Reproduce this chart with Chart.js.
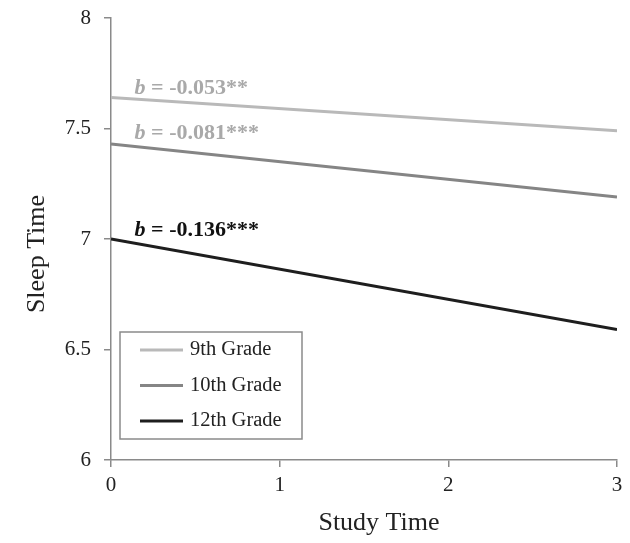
<!DOCTYPE html>
<html>
<head>
<meta charset="utf-8">
<script src="https://cdn.jsdelivr.net/npm/chart.js@4/dist/chart.umd.min.js"></script>
<style>
  html, body { margin: 0; padding: 0; background: #fff; }
  #wrap { width: 630px; height: 543px; }
</style>
</head>
<body>
<div id="wrap"><canvas id="chart-area" width="630" height="543"></canvas></div>
<script>
// study time (x) and predicted sleep time per grade
var studyTime = [0, 3];
var grades = ['9th Grade', '10th Grade', '12th Grade'];
var sleep9 = [7.64, 7.49];
var sleep10 = [7.43, 7.19];
var sleep12 = [7.00, 6.59];
var slopes = ['-0.053**', '-0.081***', '-0.136***'];
var slopeLabelY = [7.68, 7.48, 7.04];
var xTicks = [0, 1, 2, 3];
var yTicks = [6, 6.5, 7, 7.5, 8];

var lineColors = ['#b9b9b9', '#858585', '#1e1e1e'];
var labelColors = ['#a9a9a9', '#a9a9a9', '#111111'];
var serif = '"Liberation Serif", "Times New Roman", serif';

function points(ys) {
  return studyTime.map(function(x, i) { return { x: x, y: ys[i] }; });
}

var extras = {
  id: 'extras',
  afterDraw: function(chart) {
    var ctx = chart.ctx;
    var xs = chart.scales.x, ys = chart.scales.y;
    ctx.save();

    // slope annotations
    ctx.textBaseline = 'middle';
    slopes.forEach(function(s, i) {
      var px = xs.getPixelForValue(0.14);
      var py = ys.getPixelForValue(slopeLabelY[i]);
      ctx.fillStyle = labelColors[i];
      ctx.font = 'italic bold 22px ' + serif;
      ctx.textAlign = 'left';
      ctx.fillText('b', px, py);
      var w = ctx.measureText('b').width;
      ctx.font = 'bold 22px ' + serif;
      ctx.fillText(' = ' + s, px + w, py);
    });

    // legend box
    var lx = 120, ly = 332, lw = 182, lh = 107;
    ctx.strokeStyle = '#8a8a8a';
    ctx.lineWidth = 1.5;
    ctx.strokeRect(lx, ly, lw, lh);
    chart.data.datasets.forEach(function(ds, i) {
      var cy = 350 + i * 35.5;
      ctx.strokeStyle = ds.borderColor;
      ctx.lineWidth = 3;
      ctx.beginPath();
      ctx.moveTo(140, cy);
      ctx.lineTo(183, cy);
      ctx.stroke();
      ctx.fillStyle = '#222';
      ctx.font = '20.5px ' + serif;
      ctx.textAlign = 'left';
      ctx.fillText(ds.label, 190, cy);
    });

    // axis titles
    ctx.fillStyle = '#222';
    ctx.font = '26px ' + serif;
    ctx.textAlign = 'center';
    ctx.fillText('Study Time', 379, 523);
    ctx.translate(37, 254);
    ctx.rotate(-Math.PI / 2);
    ctx.fillText('Sleep Time', 0, 0);
    ctx.restore();
  }
};

var config = {
  type: 'line',
  data: {
    datasets: [
      { label: grades[0], data: points(sleep9), borderColor: lineColors[0] },
      { label: grades[1], data: points(sleep10), borderColor: lineColors[1] },
      { label: grades[2], data: points(sleep12), borderColor: lineColors[2] }
    ]
  },
  options: {
    responsive: false,
    animation: false,
    layout: { padding: { top: 18, right: 13, left: 0, bottom: 0 } },
    elements: {
      line: { borderWidth: 3, tension: 0 },
      point: { radius: 0, hoverRadius: 0 }
    },
    plugins: {
      legend: { display: false },
      title: { display: false },
      tooltip: { enabled: false }
    },
    scales: {
      x: {
        type: 'linear',
        min: 0,
        max: 3,
        afterBuildTicks: function(scale) {
          scale.ticks = xTicks.map(function(v) { return { value: v }; });
        },
        afterFit: function(scale) {
          scale.height = 83;
          scale.paddingLeft = 0;
          scale.paddingRight = 0;
        },
        grid: { drawOnChartArea: false, drawTicks: true, tickLength: 7, color: '#8a8a8a', lineWidth: 1.5 },
        border: { color: '#8a8a8a', width: 1.5 },
        ticks: {
          color: '#222', padding: 6, maxRotation: 0,
          font: { family: serif, size: 21 },
          callback: function(v) { return String(v); }
        }
      },
      y: {
        type: 'linear',
        min: 6,
        max: 8,
        afterBuildTicks: function(scale) {
          scale.ticks = yTicks.map(function(v) { return { value: v }; });
        },
        afterFit: function(scale) {
          scale.width = 111;
          scale.paddingTop = 0;
          scale.paddingBottom = 0;
        },
        grid: { drawOnChartArea: false, drawTicks: true, tickLength: 7, color: '#8a8a8a', lineWidth: 1.5 },
        border: { color: '#8a8a8a', width: 1.5 },
        ticks: {
          color: '#222', padding: 13,
          font: { family: serif, size: 21 },
          callback: function(v) { return String(v); }
        }
      }
    }
  },
  plugins: [extras]
};

window.onload = function() {
  var ctx = document.getElementById('chart-area').getContext('2d');
  window.myChart = new Chart(ctx, config);
};
</script>
</body>
</html>
